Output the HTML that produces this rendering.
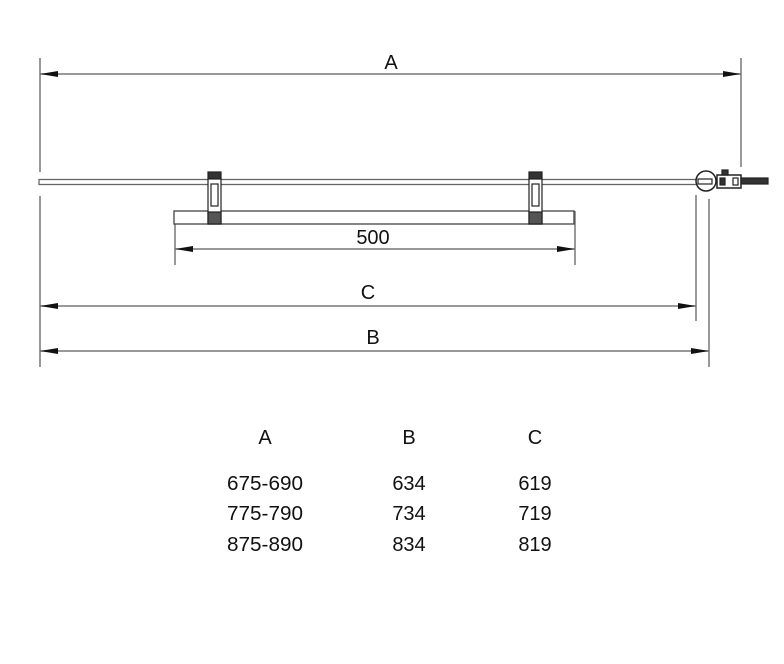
<!DOCTYPE html>
<html><head><meta charset="utf-8"><style>
html,body{margin:0;padding:0;background:#fff;}
svg{display:block;}
text{font-family:"Liberation Sans","DejaVu Sans",sans-serif;fill:#111;}
</style></head><body>
<svg width="784" height="664" viewBox="0 0 784 664" xmlns="http://www.w3.org/2000/svg">
<defs>
<marker id="ae" markerWidth="18" markerHeight="6" refX="18" refY="3" orient="auto" markerUnits="userSpaceOnUse">
<path d="M0,0 L18,3 L0,6 Z" fill="#111"/></marker>
<marker id="as" markerWidth="18" markerHeight="6" refX="0" refY="3" orient="auto" markerUnits="userSpaceOnUse">
<path d="M18,0 L0,3 L18,6 Z" fill="#111"/></marker>
</defs>
<g stroke="#777" stroke-width="1.5" fill="none">
<line x1="40" y1="58" x2="40" y2="172"/>
<line x1="40" y1="196" x2="40" y2="367"/>
<line x1="741" y1="58" x2="741" y2="167"/>
<line x1="696" y1="195" x2="696" y2="321"/>
<line x1="709" y1="199" x2="709" y2="367"/>
<line x1="175" y1="211" x2="175" y2="265"/>
<line x1="575" y1="211" x2="575" y2="265"/>
<line x1="40" y1="74" x2="741" y2="74" marker-start="url(#as)" marker-end="url(#ae)"/>
<line x1="175" y1="249" x2="575" y2="249" marker-start="url(#as)" marker-end="url(#ae)"/>
<line x1="40" y1="306" x2="696" y2="306" marker-start="url(#as)" marker-end="url(#ae)"/>
<line x1="40" y1="351" x2="709" y2="351" marker-start="url(#as)" marker-end="url(#ae)"/>
</g>
<rect x="39" y="179.5" width="660" height="5" fill="#fff" stroke="#666" stroke-width="1.3"/>
<rect x="174" y="211" width="400" height="13" fill="#fff" stroke="#444" stroke-width="1.3"/>
<g stroke="#222" stroke-width="1.2" fill="#fff">
<rect x="208" y="172" width="13" height="7" fill="#333"/>
<rect x="208" y="179" width="13" height="45"/>
<rect x="211" y="184" width="7" height="22" fill="#fff"/>
<rect x="208" y="212" width="13" height="12" fill="#555"/>
<rect x="529" y="172" width="13" height="7" fill="#333"/>
<rect x="529" y="179" width="13" height="45"/>
<rect x="532" y="184" width="7" height="22" fill="#fff"/>
<rect x="529" y="212" width="13" height="12" fill="#555"/>
<circle cx="706" cy="181" r="10" fill="#fff" stroke="#222" stroke-width="1.5"/>
<rect x="698" y="179" width="14" height="5" fill="#fff"/>
<rect x="717" y="175" width="24" height="13" fill="#fff" stroke-width="1.5"/>
<rect x="720" y="178" width="5" height="7" fill="#333"/>
<rect x="733" y="178" width="5" height="7" fill="#fff"/>
<rect x="722" y="170" width="6" height="5" fill="#333"/>
<rect x="741" y="178" width="27" height="6" fill="#333"/>
</g>
<g font-size="20" text-anchor="middle">
<text x="391" y="69">A</text>
<text x="373" y="244">500</text>
<text x="368" y="299">C</text>
<text x="373" y="344">B</text>
</g>
<g font-size="20" text-anchor="middle">
<text x="265" y="444">A</text>
<text x="409" y="444">B</text>
<text x="535" y="444">C</text>
<text x="265" y="490" textLength="76" lengthAdjust="spacingAndGlyphs">675-690</text>
<text x="265" y="520" textLength="76" lengthAdjust="spacingAndGlyphs">775-790</text>
<text x="265" y="551" textLength="76" lengthAdjust="spacingAndGlyphs">875-890</text>
<text x="409" y="490">634</text>
<text x="409" y="520">734</text>
<text x="409" y="551">834</text>
<text x="535" y="490">619</text>
<text x="535" y="520">719</text>
<text x="535" y="551">819</text>
</g>
</svg>
</body></html>
